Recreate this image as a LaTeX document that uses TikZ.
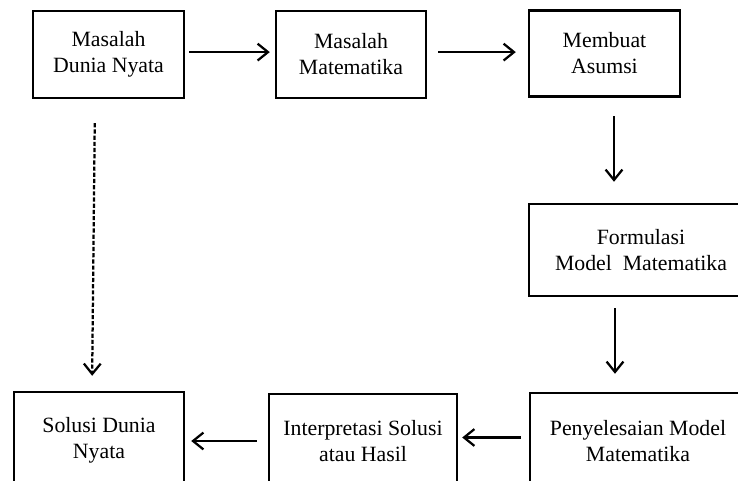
\documentclass[tikz,border=0pt]{standalone}
\usepackage{fontspec}
\setmainfont{Liberation Serif}
\usetikzlibrary{arrows.meta}

\begin{document}
\begin{tikzpicture}[x=0.025cm,y=-0.025cm,
                box/.style={rectangle,draw=black,line width=1.7pt,align=center,
                            font=\fontsize{15.5}{18.5}\selectfont,inner sep=0pt},
                flow/.style={line width=1.6pt,-{Straight Barb[length=2.6mm,width=4.2mm]}},
                dflow/.style={flow,dash pattern=on 3pt off 1.4pt}
            ]
                \useasboundingbox (0,0) rectangle (738,481);
                \clip (0,0) rectangle (738,481);
                % upper row
                \node[box,minimum width=3.775cm,minimum height=2.175cm] (b1) at (108.5,54.5) {Masalah\\Dunia Nyata};
                \node[box,minimum width=3.75cm,minimum height=2.175cm] (b2) at (351,54.5) {Masalah\\Matematika};
                \node[box,minimum width=3.775cm,minimum height=2.15cm] (b3) at (604.5,53.5) {Membuat\\Asumsi};
                % right column
                \node[box,minimum width=5.6cm,minimum height=2.3cm] (b4) at (641,250) {Formulasi\\Model~ Matematika};
                \node[box,minimum width=5.4cm,minimum height=2.425cm] (b5) at (638,441.5) {Penyelesaian Model\\Matematika};
                % lower row
                \node[box,minimum width=4.7cm,minimum height=2.35cm] (b6) at (363,441) {Interpretasi Solusi\\atau Hasil};
                \node[box,minimum width=4.25cm,minimum height=2.4cm] (b7) at (99,440) {Solusi Dunia\\Nyata};

                \draw[flow,shorten <=0.1cm,shorten >=0.125cm] ([yshift=0.06cm]b1.east) -- ([yshift=0.06cm]b2.west);
                \draw[flow,shorten <=0.275cm,shorten >=0.3cm] ([yshift=0.06cm]b2.east) -- ([yshift=0.06cm]b2.east -| b3.west);
                \draw[flow,shorten <=0.46cm,shorten >=0.525cm] ([xshift=0.2375cm]b3.south) -- ([xshift=0.2375cm]b3.south |- b4.north);
                \draw[flow,shorten <=0.275cm,shorten >=0.45cm] ([xshift=-0.65cm]b4.south) -- ([xshift=-0.65cm]b4.south |- b5.north);
                \draw[flow,shorten <=0.2cm,shorten >=0.1cm] ([yshift=0.1cm]b5.west) -- ([yshift=0.1cm]b5.west -| b6.east);
                \draw[flow,shorten <=0.275cm,shorten >=0.15cm] (b6.west) -- (b6.west -| b7.east);
                \draw[dflow,shorten <=0.6cm,shorten >=0.375cm] ([xshift=-0.3375cm]b1.south) -- ([xshift=-0.175cm]b7.north);

            \end{tikzpicture}
\end{document}
